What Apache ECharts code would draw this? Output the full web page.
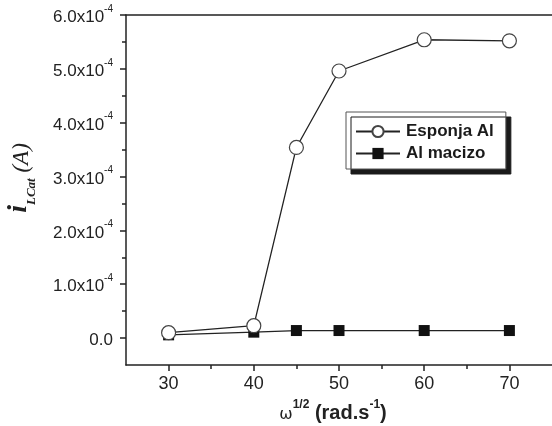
<!DOCTYPE html>
<html>
<head>
<meta charset="utf-8">
<script src="https://cdn.jsdelivr.net/npm/echarts@6/dist/echarts.min.js"></script>
<style>
  html, body { margin: 0; padding: 0; background: #fff; }
  #chart { width: 552px; height: 426px; }
</style>
</head>
<body>
<div id="chart"></div>
<script>
// omega^1/2 (rad.s^-1)
var omega = [30, 40, 45, 50, 60, 70];
// i_LCat in A
var esponjaAl = [1.0e-5, 2.3e-5, 3.54e-4, 4.96e-4, 5.54e-4, 5.52e-4];
var alMacizo = [0.6e-5, 1.1e-5, 1.4e-5, 1.4e-5, 1.4e-5, 1.4e-5];

var xTicks = [30, 40, 50, 60, 70];
var xMinorTicks = [35, 45, 55, 65];
var yTicks = [0, 1e-4, 2e-4, 3e-4, 4e-4, 5e-4, 6e-4];
var yMinorTicks = [0.5e-4, 1.5e-4, 2.5e-4, 3.5e-4, 4.5e-4, 5.5e-4];

var ink = '#222';
var sans = 'Liberation Sans';
var serif = 'Liberation Serif';

function pairs(xs, ys) {
    return xs.map(function (x, i) { return [x, ys[i]]; });
}

var chart = echarts.init(document.getElementById('chart'));

var option = {
    backgroundColor: '#fff',
    animation: false,
    grid: { left: 126, right: -3, top: 15, bottom: 61 },
    legend: {
        data: ['Esponja Al', 'Al macizo'],
        orient: 'vertical',
        left: 346,
        top: 112,
        padding: [11, 12, 7, 9],
        itemGap: 5,
        itemWidth: 44,
        itemHeight: 14,
        backgroundColor: '#fff',
        borderColor: '#555',
        borderWidth: 1,
        borderRadius: 0,
        shadowColor: '#1a1a1a',
        shadowBlur: 0,
        shadowOffsetX: 5,
        shadowOffsetY: 5,
        textStyle: { fontFamily: sans, fontWeight: 'bold', fontSize: 17, color: '#1a1a1a', padding: [0, 0, 0, 1] }
    },
    xAxis: [
        {
            type: 'value', position: 'bottom', min: 25, max: 75,
            axisLine: { show: true, onZero: false, lineStyle: { color: ink, width: 1.5 } },
            axisTick: { show: true, customValues: xTicks, length: 6, lineStyle: { color: ink, width: 1.5 } },
            axisLabel: { customValues: xTicks, margin: 10, fontFamily: sans, fontSize: 18, color: ink },
            splitLine: { show: false }
        },
        {
            type: 'value', position: 'bottom', min: 25, max: 75,
            axisLine: { show: false, onZero: false },
            axisTick: { show: true, customValues: xMinorTicks, length: 4, lineStyle: { color: ink, width: 1.5 } },
            axisLabel: { show: false },
            splitLine: { show: false }
        },
        {
            type: 'value', position: 'top', min: 25, max: 75,
            axisLine: { show: true, onZero: false, lineStyle: { color: ink, width: 1.5 } },
            axisTick: { show: false },
            axisLabel: { show: false },
            splitLine: { show: false }
        }
    ],
    yAxis: [
        {
            type: 'value', position: 'left', min: -0.5e-4, max: 6e-4,
            axisLine: { show: true, onZero: false, lineStyle: { color: ink, width: 1.5 } },
            axisTick: { show: true, customValues: yTicks, length: 6, lineStyle: { color: ink, width: 1.5 } },
            axisLabel: {
                customValues: yTicks,
                margin: 13,
                fontFamily: sans, fontSize: 17, color: ink,
                formatter: function (v) {
                    var m = v * 1e4;
                    if (Math.abs(m) < 1e-9) return '{n|0.0}';
                    return '{n|' + m.toFixed(1) + 'x10}{s|-4}';
                },
                rich: {
                    n: { fontFamily: sans, fontSize: 17, color: ink, lineHeight: 22, verticalAlign: 'bottom' },
                    s: { fontFamily: sans, fontSize: 10, color: ink, lineHeight: 22, verticalAlign: 'top' }
                }
            },
            splitLine: { show: false }
        },
        {
            type: 'value', position: 'left', min: -0.5e-4, max: 6e-4,
            axisLine: { show: false, onZero: false },
            axisTick: { show: true, customValues: yMinorTicks, length: 4, lineStyle: { color: ink, width: 1.5 } },
            axisLabel: { show: false },
            splitLine: { show: false }
        }
    ],
    graphic: [
        {
            type: 'text',
            x: 19, y: 178,
            rotation: Math.PI / 2,
            style: {
                text: '{i|i}{sub|LCat}{a| (A)}',
                align: 'center',
                verticalAlign: 'middle',
                rich: {
                    i: { fontFamily: serif, fontStyle: 'italic', fontWeight: 'bold', fontSize: 28, fill: ink, lineHeight: 28, verticalAlign: 'bottom' },
                    sub: { fontFamily: serif, fontStyle: 'italic', fontWeight: 'bold', fontSize: 13, fill: ink, lineHeight: 28, verticalAlign: 'bottom', padding: [0, 0, -5, 0] },
                    a: { fontFamily: serif, fontStyle: 'italic', fontSize: 23, fill: ink, lineHeight: 28, verticalAlign: 'bottom' }
                }
            }
        },
        {
            type: 'text',
            x: 333, y: 411,
            style: {
                text: '{w|ω}{s|1/2}{b| (rad.s}{s|-1}{b|)}',
                align: 'center',
                verticalAlign: 'middle',
                rich: {
                    w: { fontFamily: 'DejaVu Sans', fontSize: 16, fill: ink, lineHeight: 24, verticalAlign: 'bottom' },
                    b: { fontFamily: sans, fontWeight: 'bold', fontSize: 20, fill: ink, lineHeight: 24, verticalAlign: 'bottom' },
                    s: { fontFamily: sans, fontWeight: 'bold', fontSize: 12, fill: ink, lineHeight: 24, verticalAlign: 'top' }
                }
            }
        }
    ],
    series: [
        {
            name: 'Al macizo',
            type: 'line',
            xAxisIndex: 0, yAxisIndex: 0,
            data: pairs(omega, alMacizo),
            symbol: 'rect',
            symbolSize: 11,
            lineStyle: { color: ink, width: 1.3 },
            itemStyle: { color: '#111', borderColor: '#111', borderWidth: 0 },
            z: 2
        },
        {
            name: 'Esponja Al',
            type: 'line',
            xAxisIndex: 0, yAxisIndex: 0,
            data: pairs(omega, esponjaAl),
            symbol: 'circle',
            symbolSize: 14,
            lineStyle: { color: ink, width: 1.3 },
            itemStyle: { color: '#fff', borderColor: '#444', borderWidth: 1.2 },
            z: 3
        }
    ]
};

chart.setOption(option);
</script>
</body>
</html>
